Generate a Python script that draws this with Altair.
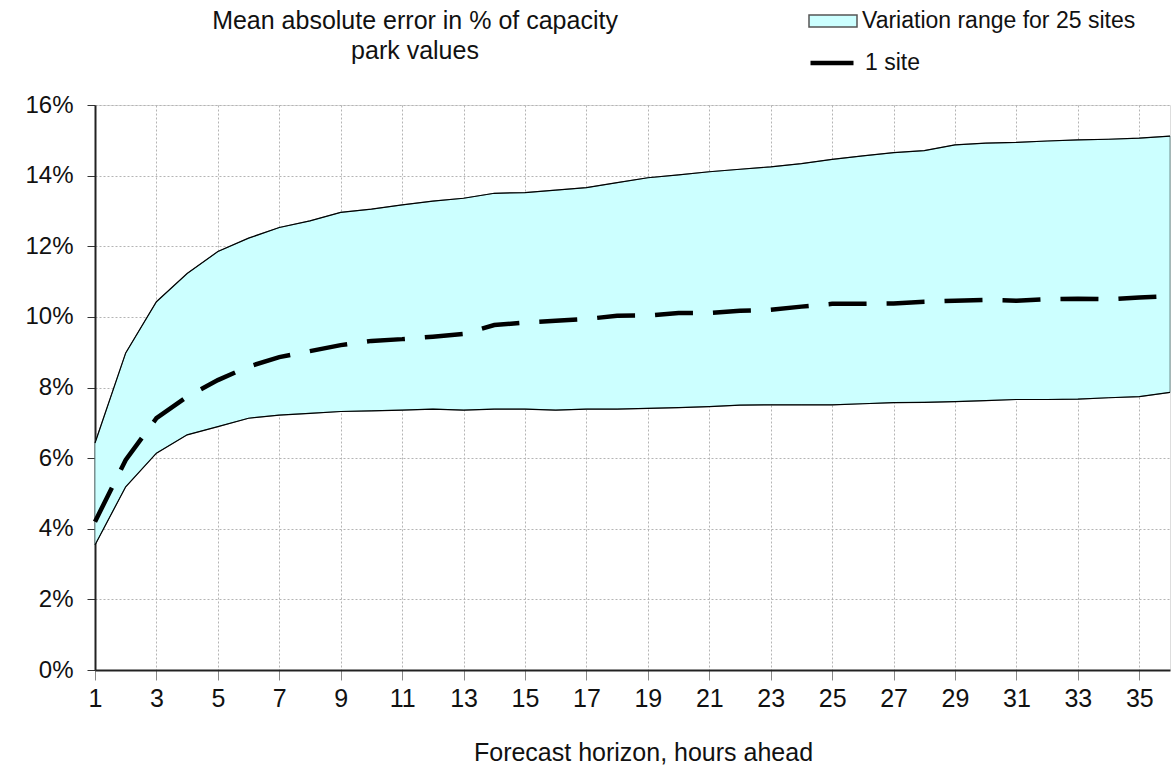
import altair as alt
import pandas as pd

# Forecast horizon (hours ahead)
hours = list(range(1, 37))

# Upper and lower envelope of the mean absolute error across 25 sites (% of capacity)
upper_pct = [6.43, 8.98, 10.43, 11.23, 11.85, 12.23, 12.53, 12.72, 12.96, 13.05,
             13.17, 13.28, 13.36, 13.50, 13.52, 13.59, 13.66, 13.80, 13.94, 14.02,
             14.11, 14.18, 14.25, 14.34, 14.46, 14.56, 14.65, 14.71, 14.87, 14.92,
             14.94, 14.98, 15.01, 15.03, 15.06, 15.12]
lower_pct = [3.54, 5.19, 6.14, 6.66, 6.89, 7.13, 7.22, 7.27, 7.32, 7.34,
             7.36, 7.39, 7.36, 7.39, 7.39, 7.36, 7.39, 7.39, 7.41, 7.43,
             7.46, 7.50, 7.51, 7.51, 7.51, 7.54, 7.57, 7.58, 7.60, 7.63,
             7.66, 7.66, 7.67, 7.71, 7.74, 7.86]

# Single site error (% of capacity)
one_site_pct = [4.20, 5.95, 7.13, 7.74, 8.21, 8.59, 8.86, 9.03, 9.20, 9.32,
                9.37, 9.44, 9.52, 9.77, 9.84, 9.89, 9.94, 10.03, 10.04, 10.11,
                10.11, 10.17, 10.20, 10.29, 10.37, 10.37, 10.38, 10.43, 10.46, 10.48,
                10.46, 10.50, 10.51, 10.50, 10.55, 10.59]

y_ticks = list(range(0, 17, 2))
title_lines = ["Mean absolute error in % of capacity", "park values"]
band_label = "Variation range for 25 sites"
line_label = "1 site"
x_title = "Forecast horizon, hours ahead"

FONT = "Liberation Sans"

df = pd.DataFrame({
    "hour": hours,
    "upper": upper_pct,
    "lower": lower_pct,
    "one_site": one_site_pct,
})

x_enc = alt.X(
    "hour:Q",
    scale=alt.Scale(domain=[1, 36], nice=False, zero=False),
    axis=alt.Axis(
        values=hours,
        labelExpr="datum.value % 2 == 1 ? datum.label : ''",
        title=x_title,
        titleX=548,
        titleY=90,
        titleBaseline="alphabetic",
        titleAlign="center",
        titleFontSize=25,
        titleFontWeight="normal",
        titleFont=FONT,
        titleColor="#111111",
        labelFontSize=25,
        labelFont=FONT,
        labelColor="#111111",
        labelPadding=6,
        labelFlush=False,
        labelOverlap=False,
        tickSize=10,
        tickColor="#888888",
        domainColor="#222222",
        domainWidth=2,
        gridColor="#b4b4b4",
        gridDash=[2, 2],
        gridWidth=1,
    ),
)

y_scale = alt.Scale(domain=[0, 16], nice=False, zero=True)
y_axis = alt.Axis(
    values=y_ticks,
    labelExpr="datum.value + '%'",
    title=None,
    labelFontSize=24,
    labelFont=FONT,
    labelColor="#111111",
    labelPadding=14,
    tickSize=8,
    tickColor="#333333",
    domainColor="#222222",
    domainWidth=2,
    gridColor="#b4b4b4",
    gridDash=[2, 2],
    gridWidth=1,
)

base = alt.Chart(df)

# Shaded range between lowest and highest site error
band = base.transform_calculate(series=f"'{band_label}'").mark_area(
    stroke="#6f8f8f", strokeWidth=1
).encode(
    x=x_enc,
    y=alt.Y("upper:Q", scale=y_scale, axis=y_axis),
    y2="lower:Q",
    fill=alt.Fill(
        "series:N",
        scale=alt.Scale(domain=[band_label], range=["#ccffff"]),
        legend=alt.Legend(
            title=None,
            orient="none",
            legendX=713,
            legendY=-109,
            padding=0,
            symbolType="M-1,-0.25H1V0.25H-1Z",
            symbolSize=2304,
            symbolStrokeColor="#555555",
            symbolStrokeWidth=1.5,
            labelFont=FONT,
            labelFontSize=23,
            labelColor="#111111",
            labelOffset=4,
            labelLimit=400,
        ),
    ),
)

upper_edge = base.mark_line(color="black", strokeWidth=1.2).encode(
    x="hour:Q", y="upper:Q"
)
lower_edge = base.mark_line(color="black", strokeWidth=1.2).encode(
    x="hour:Q", y="lower:Q"
)

# Dashed single-site curve
site = base.transform_calculate(series2=f"'{line_label}'").mark_line(
    strokeWidth=4.5, strokeDash=[38, 20], strokeCap="butt"
).encode(
    x="hour:Q",
    y="one_site:Q",
    stroke=alt.Stroke(
        "series2:N",
        scale=alt.Scale(domain=[line_label], range=["black"]),
        legend=alt.Legend(
            title=None,
            orient="none",
            legendX=713,
            legendY=-66,
            padding=0,
            symbolType="stroke",
            symbolSize=1849,
            symbolStrokeWidth=4.5,
            symbolDash=[60, 0],
            labelFont=FONT,
            labelFontSize=23,
            labelColor="#111111",
            labelOffset=9,
            labelLimit=400,
        ),
    ),
)

# Two-line heading above the plot, left of the legend
heading = alt.Chart(pd.DataFrame({"k": [0]})).mark_text(
    text=title_lines,
    font=FONT,
    fontSize=25,
    color="#111111",
    align="center",
    baseline="alphabetic",
    lineHeight=30,
).encode(x=alt.value(320), y=alt.value(-76))

chart = (
    alt.layer(band, upper_edge, lower_edge, site, heading)
    .resolve_legend(fill="independent", stroke="independent")
    .properties(
        width=1075,
        height=565,
        autosize="none",
        padding={"left": 95, "top": 105, "right": 5, "bottom": 97},
    )
    .configure_view(stroke=None)
    .configure(background="white")
)

chart.save("out.html", embed_options={"renderer": "svg", "actions": False})
